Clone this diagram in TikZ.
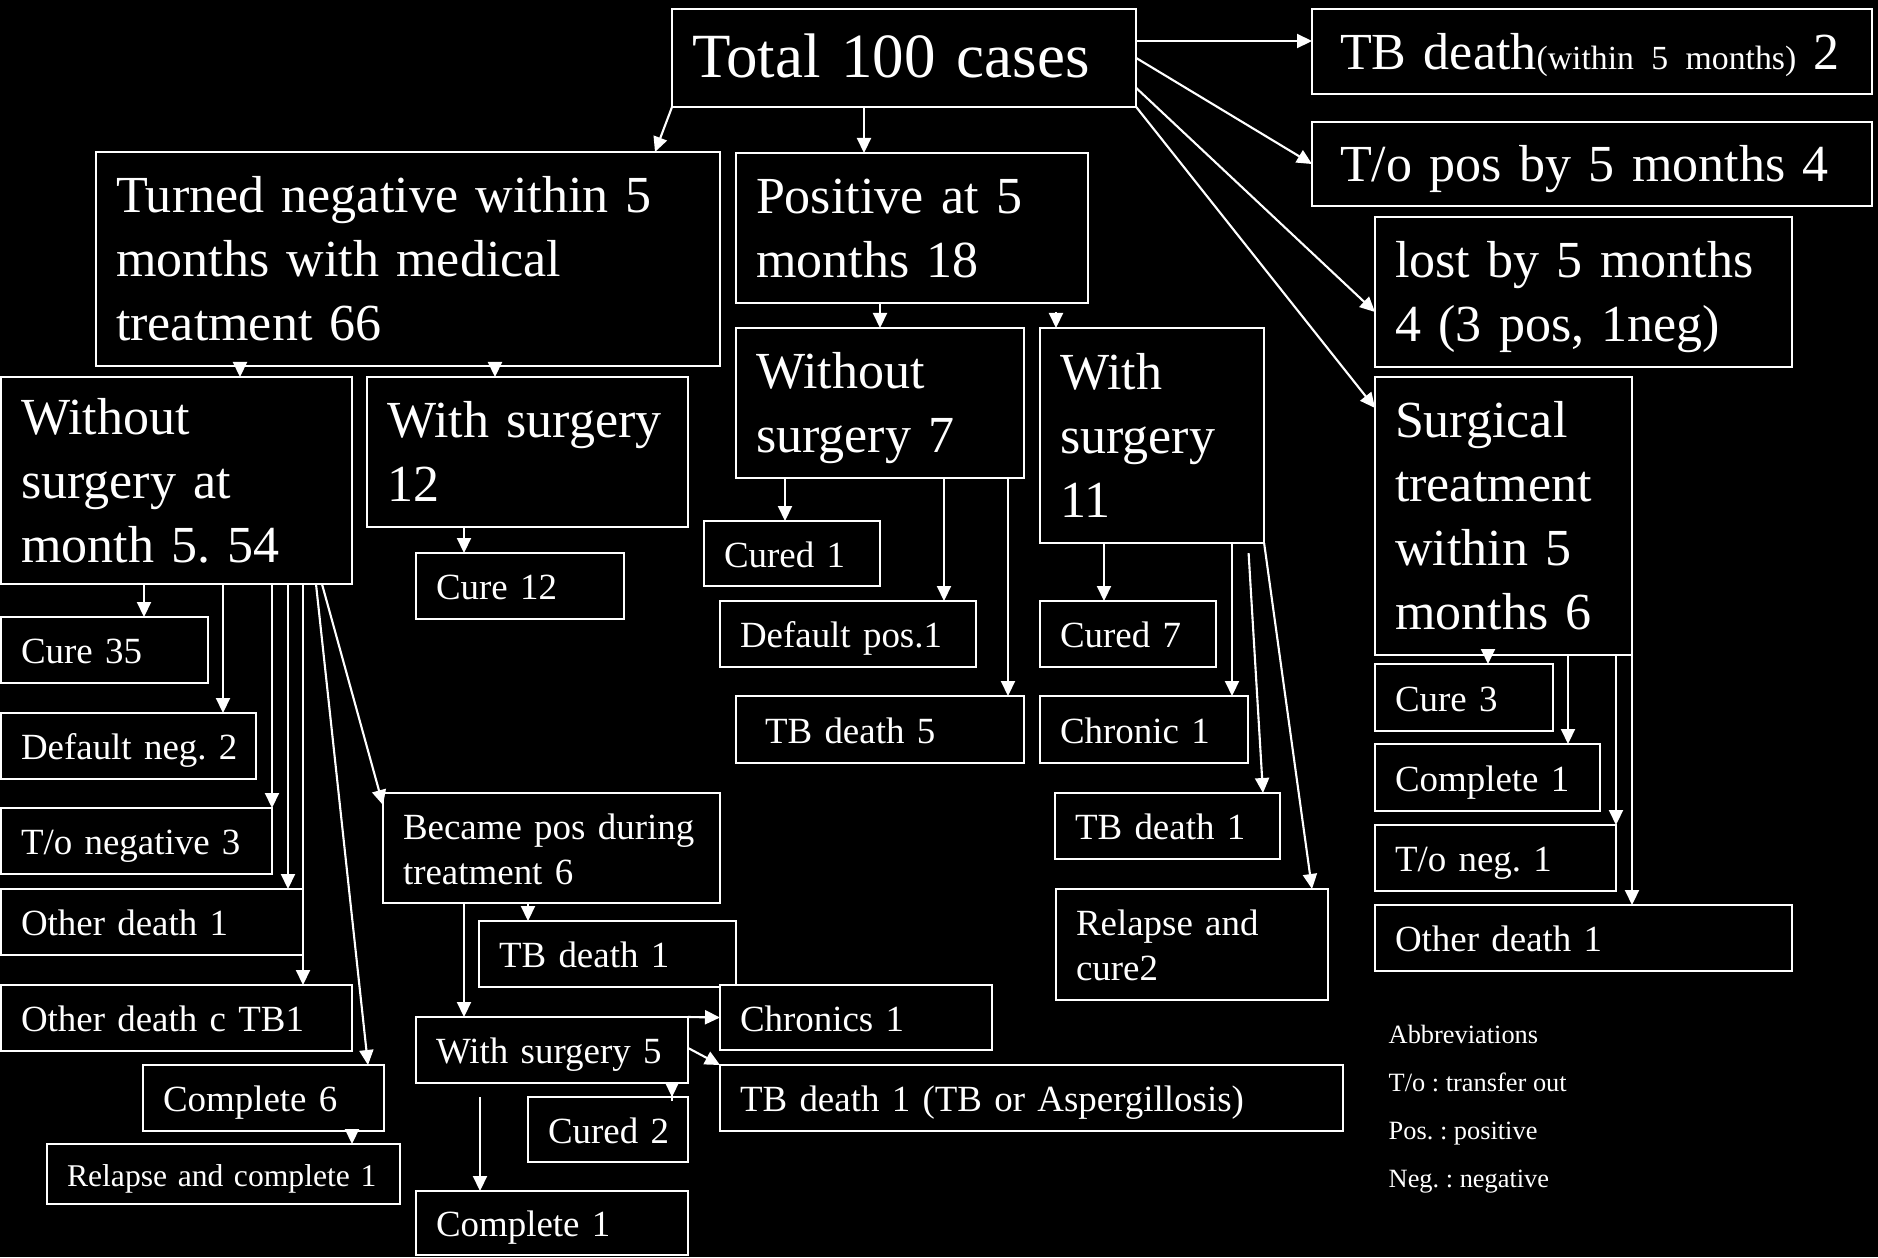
\documentclass[tikz,border=0pt]{standalone}
\usepackage{fontspec}
\setmainfont{Liberation Serif}
\usetikzlibrary{arrows.meta}
\usetikzlibrary{calc}
\tikzstyle{box}=[draw=white, line width=0.6pt, text=white, fill=black, anchor=north west, align=left, inner xsep=0.2cm, inner ysep=0.03cm, outer sep=0pt]
\tikzstyle{edge}=[draw=white, line width=0.6pt, -{Triangle[length=0.15cm,width=0.14cm]}]
\newcommand{\fbig}{\fontsize{17.9pt}{21pt}\selectfont}
\newcommand{\fmid}{\fontsize{14.8pt}{18.2pt}\selectfont}
\newcommand{\fsmall}{\fontsize{10.5pt}{12.8pt}\selectfont}
\newcommand{\ftiny}{\fontsize{9pt}{11pt}\selectfont}
\newcommand{\fparen}{\fontsize{9.6pt}{12pt}\selectfont}
\newcommand{\fabbr}{\fontsize{7.5pt}{13.7pt}\selectfont}
\newcommand{\lines}[1]{\raisebox{-1.4pt}[\height][\depth]{\begin{tabular}{@{}l@{}}#1\end{tabular}}}
\frenchspacing

\begin{document}
\begin{tikzpicture}[x=0.01cm, y=-0.01cm]

  \fill[black] (0,0) rectangle (1878,1257);
  \useasboundingbox (0,0) rectangle (1878,1257);

   % top box
   \foreach \xa/\ya/\xb/\yb/\name/\label in {672/9/1136/107/total/{Total 100 cases}}
          {\pgfmathsetmacro\bw{(\xb-\xa)/100}\pgfmathsetmacro\bh{(\yb-\ya)/100}
          \node[box, font=\fbig, minimum width=\bw cm, minimum height=\bh cm, text width=\bw cm-0.4cm] (\name) at (\xa,\ya) {\lines{\label}};}

   % second level
   \foreach \xa/\ya/\xb/\yb/\name/\label in {
          96/152/720/366/turned/{Turned negative within 5\\months with medical\\treatment 66},
          736/153/1088/303/positive/{Positive at 5\\months 18},
          1/377/352/584/wo54/{Without\\surgery at\\month 5. 54},
          367/377/688/527/ws12/{With surgery\\12},
          736/328/1024/478/wo7/{Without\\surgery 7},
          1040/328/1264/543/ws11/{With\\surgery\\11},
          1312/9/1872/94/tbdeath/{\hspace*{0.08cm}TB death{\fparen(within 5 months)} 2},
          1312/122/1872/206/tpos/{\hspace*{0.08cm}T/o pos by 5 months 4},
          1375/217/1792/367/lost/{lost by 5 months\\4 (3 pos, 1neg)},
          1375/377/1632/655/surg/{Surgical\\treatment\\within 5\\months 6}}
          {\pgfmathsetmacro\bw{(\xb-\xa)/100}\pgfmathsetmacro\bh{(\yb-\ya)/100}
          \node[box, font=\fmid, minimum width=\bw cm, minimum height=\bh cm, text width=\bw cm-0.4cm] (\name) at (\xa,\ya) {\lines{\label}};}

   % outcomes
   \foreach \xa/\ya/\xb/\yb/\name/\label in {
          416/553/624/619/cure12/{Cure 12},
          1/617/208/683/cure35/{Cure 35},
          1/713/256/779/defneg/{Default neg. 2},
          1/808/272/874/toneg/{T/o negative 3},
          1/889/303/955/od1/{Other death 1},
          1/985/352/1051/odtb/{Other death c TB1},
          143/1065/384/1131/comp6/{Complete 6},
          383/793/720/903/becpos/{Became pos during\\treatment 6},
          479/921/736/987/tbd1b/{TB death 1},
          416/1017/688/1083/ws5/{With surgery 5},
          528/1097/688/1162/cured2/{Cured 2},
          416/1191/688/1255/comp1/{Complete 1},
          720/985/992/1050/chronics/{Chronics 1},
          720/1065/1343/1131/tbasp/{TB death 1 (TB or Aspergillosis)},
          704/521/880/586/cured1/{Cured 1},
          720/601/976/667/defpos/{Default pos.1},
          736/696/1024/763/tbd5/{\hspace*{0.09cm}TB death 5},
          1040/601/1216/667/cured7/{Cured 7},
          1040/696/1248/763/chronic/{Chronic 1},
          1055/793/1280/859/tbd1w/{TB death 1},
          1056/889/1328/1000/relcure/{Relapse and\\cure2},
          1375/664/1553/731/cure3/{Cure 3},
          1375/744/1600/811/comp1s/{Complete 1},
          1375/825/1616/891/toneg1/{T/o neg. 1},
          1375/905/1792/971/od1s/{Other death 1}}
          {\pgfmathsetmacro\bw{(\xb-\xa)/100}\pgfmathsetmacro\bh{(\yb-\ya)/100}
          \node[box, font=\fsmall, minimum width=\bw cm, minimum height=\bh cm, text width=\bw cm-0.4cm] (\name) at (\xa,\ya) {\lines{\label}};}

   \node[box, font=\ftiny, minimum width=3.53cm, minimum height=0.6cm, text width=3.13cm] (relcomp) at (47,1144) {\lines{Relapse and complete 1}};

   \node[text=white, font=\fabbr, align=left, anchor=north west, inner sep=0pt] (abbr) at (1388,1024) {Abbreviations\\T/o : transfer out\\Pos. : positive\\Neg. : negative};

   % arrows out of the total
   \draw[edge] (total.south west) -- (655,0 |- turned.north);
   \draw[edge] (864,0 |- total.south) -- (864,0 |- positive.north);
   \draw[edge] (total.east |- 0,41) -- (tbdeath.west |- 0,41);
   \draw[edge] (total.east) -- (tpos.west);
   \draw[edge] (total.east |- 0,88) -- (lost.west |- 0,312);
   \draw[edge] (total.south east) -- (surg.west |- 0,408);

   % straight drops
   \foreach \source/\x/\dest in {positive/880/wo7, turned/240/wo54, turned/495/ws12, ws12/464/cure12,
          wo54/144/cure35, wo54/223/defneg, wo54/272/toneg, wo54/288/od1, wo54/303/odtb,
          comp6/352/relcomp, becpos/528/tbd1b, becpos/464/ws5,
          wo7/785/cured1, wo7/944/defpos, wo7/1008/tbd5, ws11/1104/cured7, ws11/1232/chronic,
          surg/1488/cure3, surg/1568/comp1s, surg/1616/toneg1, surg/1632/od1s}
         \draw[edge] (\x,0 |- \source.south) -- (\x,0 |- \dest.north);

   \draw[edge, shorten <=0.09cm] (1056,0 |- positive.south) -- (1056,0 |- ws11.north);
   \draw[edge] (322,0 |- wo54.south) -- ([yshift=-0.12cm]becpos.north west);
   \draw[edge] (316,0 |- wo54.south) -- (368,0 |- comp6.north);
   \draw[edge] (ws5.north east) -- (chronics.west);
   \draw[edge] (ws5.east |- 0,1048) -- (tbasp.north west);
   \draw[edge, shorten <=-0.18cm] (672,0 |- ws5.south) -- (672,0 |- cured2.north);
   \draw[edge, shorten <=0.14cm] (480,0 |- ws5.south) -- (480,0 |- comp1.north);
   \draw[edge, shorten <=0.1cm] (1248,0 |- ws11.south) -- (1263,0 |- tbd1w.north);
   \draw[edge] (ws11.south east) -- (1312,0 |- relcure.north);

\end{tikzpicture}
\end{document}
